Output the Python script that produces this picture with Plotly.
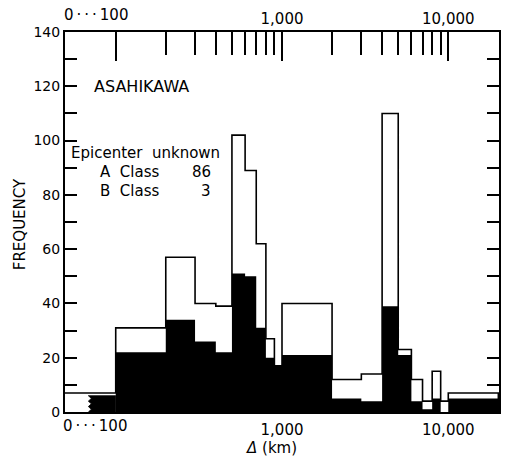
import numpy as np
import plotly.graph_objects as go

# Distance bins (km). The first bin (0-100) sits on a compressed, broken
# segment at the left end of the logarithmic distance axis.
bin_edges = [0, 100, 200, 300, 400, 500, 600, 700, 800, 900, 1000,
             2000, 3000, 4000, 5000, 6000, 7000, 8000, 9000, 10000, 20000]
# Number of events per bin (outlined histogram)
total_counts = [7, 31, 57, 40, 39, 102, 89, 62, 27, 17,
                40, 12, 14, 110, 23, 12, 4, 15, 4, 7]
# Part of each bin drawn solid black
black_counts = [6, 22, 34, 26, 22, 51, 50, 31, 20, 17,
                21, 5, 4, 39, 21, 4, 1, 5, 0, 5]

station = "ASAHIKAWA"
legend_head = "Epicenter  unknown"
class_names = ["A  Class", "B  Class"]
class_counts = [86, 3]

y_ticks = list(range(0, 141, 10))
y_labels = [str(v) if v % 20 == 0 else "" for v in y_ticks]
top_major = [100, 1000, 10000]
top_major_text = ["", "1,000", "10,000"]
top_minor = [m * d for d in (100, 1000) for m in range(2, 10)]
bottom_ticks = [1000, 10000]
bottom_text = ["1,000", "10,000"]
stub_label = "0\u2009·\u2009·\u2009·\u2009100"

# ---- axis geometry ----
W, H = 509, 460
L, R, T, B = 65, 501, 32, 412          # plot frame (px)
STUB = 0.305                           # width of the 0...100 segment in decades
LOG_MIN = np.log10(100) - STUB
LOG_MAX = np.log10(10000) + STUB
stub_left = 10 ** LOG_MIN


def px_x(px):
    return (px - L) / (R - L)


def px_y(py):
    return (B - py) / (B - T)


edges = [stub_left if e == 0 else e for e in bin_edges]

# solid part from 100 km upward, as one closed step polygon
bx, by = [edges[1]], [0]
for i in range(1, len(black_counts)):
    bx += [edges[i], edges[i + 1]]
    by += [black_counts[i], black_counts[i]]
bx.append(edges[-1]); by.append(0)

# solid part of the 0-100 bin, starting at a zig-zag break mark
zig_log = LOG_MIN + 0.49 * STUB
amp = 0.009
zx, zy = [], []
n_teeth = 6
for k in range(n_teeth + 1):
    zx.append(10 ** (zig_log + (amp if k % 2 else -amp)))
    zy.append(black_counts[0] * k / n_teeth)
zx += [edges[1], edges[1]]
zy += [black_counts[0], 0]

# outline of all bins
ox, oy = [], []
for i, h in enumerate(total_counts):
    ox += [edges[i], edges[i + 1]]
    oy += [h, h]
ox.append(edges[-1]); oy.append(0)

fig = go.Figure()
fig.add_trace(go.Scatter(x=bx, y=by, mode="lines", fill="toself",
                         fillcolor="black", line=dict(width=0, color="black"),
                         hoverinfo="skip", showlegend=False))
fig.add_trace(go.Scatter(x=zx, y=zy, mode="lines", fill="toself",
                         fillcolor="black", line=dict(width=0.8, color="black"),
                         hoverinfo="skip", showlegend=False))
fig.add_trace(go.Scatter(x=ox, y=oy, mode="lines",
                         line=dict(width=1.6, color="black"),
                         hoverinfo="skip", showlegend=False))
# carrier trace for the top distance axis
fig.add_trace(go.Scatter(x=[100, 10000], y=[0, 0], xaxis="x2", mode="markers",
                         marker=dict(opacity=0), hoverinfo="skip",
                         showlegend=False))

font = "DejaVu Sans"
fig.update_layout(
    width=W, height=H,
    margin=dict(l=L, r=W - R, t=T, b=H - B),
    paper_bgcolor="white", plot_bgcolor="white",
    font=dict(family=font, color="black"),
    xaxis=dict(type="log", range=[LOG_MIN, LOG_MAX], showgrid=False,
               zeroline=False, showline=True, linecolor="black", linewidth=2,
               ticks="", tickvals=bottom_ticks, ticktext=bottom_text,
               ticklabelstandoff=3, tickfont=dict(size=15)),
    xaxis2=dict(type="log", range=[LOG_MIN, LOG_MAX], overlaying="x",
                side="top", showgrid=False, zeroline=False, showline=True,
                linecolor="black", linewidth=2, ticks="inside", ticklen=29,
                tickwidth=1.5, tickcolor="black", tickvals=top_major,
                ticktext=top_major_text, tickfont=dict(size=15),
                minor=dict(tickvals=top_minor, ticks="inside", ticklen=23,
                           tickwidth=1.5, tickcolor="black")),
    yaxis=dict(range=[0, 140], showgrid=False, zeroline=False, showline=True,
               linecolor="black", linewidth=2, mirror="ticks", ticks="inside",
               ticklen=12, tickwidth=2, tickcolor="black", tickvals=y_ticks,
               ticktext=y_labels, tickfont=dict(size=14)),
)


def label(px, py, text, size=15, xanchor="left", **kw):
    return dict(x=px_x(px), y=px_y(py), xref="paper", yref="paper",
                text=text, showarrow=False, xanchor=xanchor,
                yanchor="middle", font=dict(size=size), **kw)


ann = [label(92, 86, station, size=16),
       label(69, 153, legend_head)]
for i, (nm, cnt) in enumerate(zip(class_names, class_counts)):
    yy = 172 + 18.5 * i
    ann.append(label(98, yy, nm))
    ann.append(label(214, yy, str(cnt), xanchor="right"))
ann.append(label(20, 224, "FREQUENCY", xanchor="center", textangle=-90))
ann.append(label(62, 15, stub_label))
ann.append(label(61, 426, stub_label))
ann.append(label(272, 448, "<i>Δ</i> (km)", xanchor="center"))
fig.update_layout(annotations=ann)

fig.write_html("out.html")
